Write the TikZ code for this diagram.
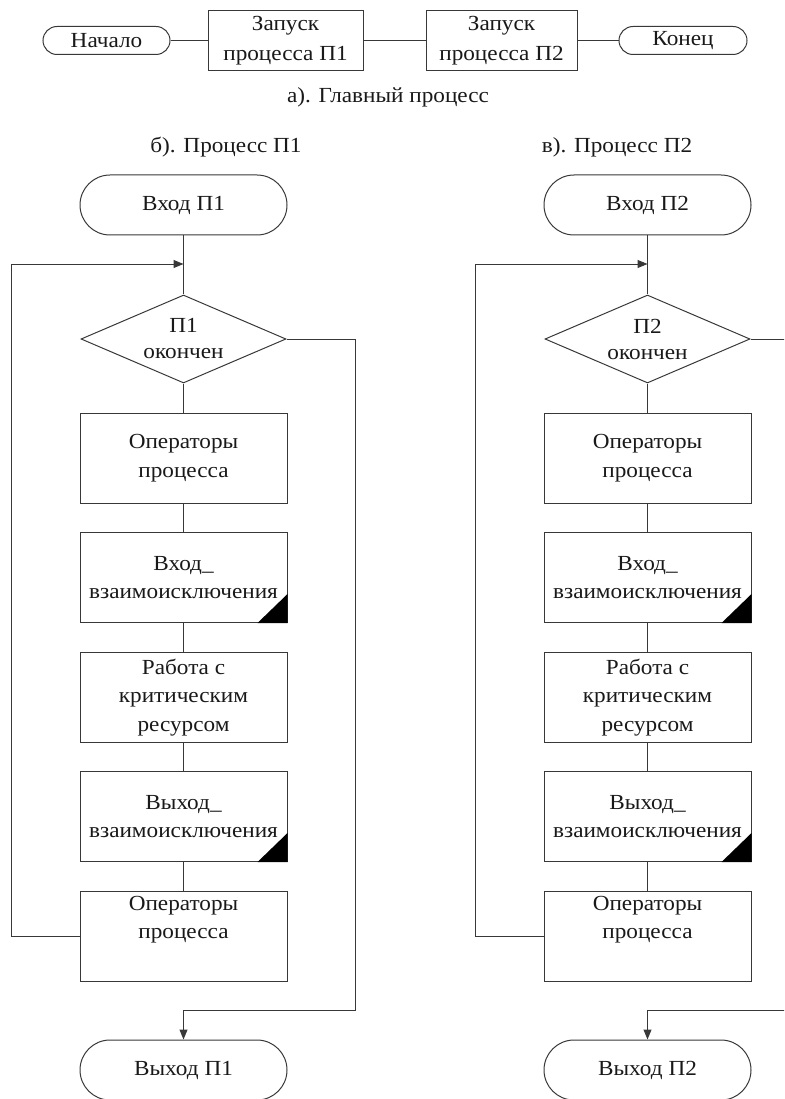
\documentclass[tikz,border=0pt]{standalone}
\usepackage{fontspec}
\setmainfont{Liberation Serif}[FakeStretch=1.08]
\usetikzlibrary{shapes.geometric,arrows.meta}

\begin{document}
\begin{tikzpicture}[x=1pt,y=-1pt,
  every node/.style={font=\fontsize{21.5}{28.5}\selectfont, align=center, inner sep=0pt, text=black!90},
  line/.style={draw=black!78, line width=1pt},
  term/.style={line, rounded corners=30pt, minimum width=207pt, minimum height=60pt},
  smallterm/.style={line, rounded corners=14pt, minimum height=28pt},
  proc/.style={line, minimum width=207pt, minimum height=90pt},
  topproc/.style={line, minimum height=60pt, font=\fontsize{21.5}{30}\selectfont},
  cond/.style={line, diamond, aspect=2.33, minimum width=205pt, minimum height=88pt,
               font=\fontsize{21.5}{26}\selectfont},
  arr/.style={line, -{Triangle[length=10pt,width=8pt]}},
  corner/.style={fill=black}
]
\useasboundingbox (0,0) rectangle (784,1099);
\clip (0,0) rectangle (784,1099);

% main process
\node[smallterm, minimum width=127pt] (start) at (106.5,40.5) {Начало};
\node[topproc, minimum width=155pt] (z1) at (285.5,40.5) {Запуск\\процесса П1};
\node[topproc, minimum width=151pt] (z2) at (501.5,40.5) {Запуск\\процесса П2};
\node[smallterm, minimum width=128pt] (end) at (683,40.5) {Конец};
\draw[line] (start) -- (z1);
\draw[line] (z1) -- (z2);
\draw[line] (z2) -- (end);
\node (capa) at (388,97) {а). Главный процесс};

\node (capb) at (226,147) {б). Процесс П1};
\node (capc) at (617,147) {в). Процесс П2};

% processes P1 and P2
\foreach \c/\x/\rx in {1/183.5/355, 2/647.5/800} {
  \node[term] (in\c) at (\x,205) {Вход П\c};
  \coordinate (j\c) at (\x,264);
  \node[cond] (d\c) at (\x,339) {П\c\\окончен};
  \node[proc] (o\c) at (\x,458) {Операторы\\процесса};
  \node[proc] (e\c) at (\x,577.5) {Вход\_\\взаимоисключения};
  \node[proc] (r\c) at (\x,697.5) {Работа с\\критическим\\ресурсом};
  \node[proc] (x\c) at (\x,816.5) {Выход\_\\взаимоисключения};
  \node[proc] (p\c) at (\x,936) {Операторы\\процесса\\\strut};
  \node[term] (out\c) at (\x,1070) {Выход П\c};
  \coordinate (b\c) at (\rx,1010);

  \fill[corner] (e\c.south east) -- ++(-30,0) -- ++(30,-29) -- cycle;
  \fill[corner] (x\c.south east) -- ++(-30,0) -- ++(30,-29) -- cycle;

  \draw[line] (in\c) -- (d\c);
  \draw[line] (d\c) -- (o\c);
  \draw[line] (o\c) -- (e\c);
  \draw[line] (e\c) -- (r\c);
  \draw[line] (r\c) -- (x\c);
  \draw[line] (x\c) -- (p\c);
  \draw[arr] (p\c.west) -- ++(-68,0) |- (j\c);
  \draw[arr] (d\c.east) -| (b\c) -| (out\c.north);
}
\end{tikzpicture}
\end{document}
